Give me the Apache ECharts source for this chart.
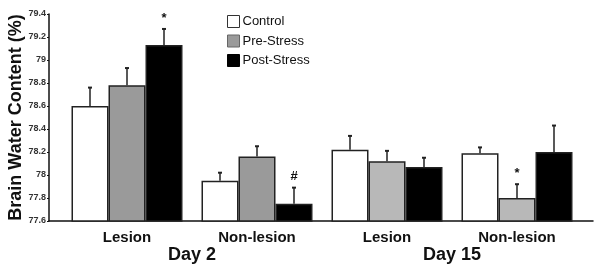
<!DOCTYPE html>
<html>
<head>
<meta charset="utf-8">
<script src="https://cdn.jsdelivr.net/npm/echarts@6/dist/echarts.min.js"></script>
<style>html,body{margin:0;padding:0;background:#fff;}#c{width:602px;height:272px;}</style>
</head>
<body>
<div id="c"></div>
<script>
var categories = ['Lesion', 'Non-lesion', 'Lesion', 'Non-lesion'];
var dayLabels = ['Day 2', 'Day 15'];
var seriesNames = ['Control', 'Pre-Stress', 'Post-Stress'];
var controlVals = [78.60, 77.95, 78.22, 78.19];
var controlErr = [0.16, 0.07, 0.12, 0.05];
var preVals = [78.78, 78.16, 78.12, 77.80];
var preErr = [0.15, 0.09, 0.09, 0.12];
var postVals = [79.13, 77.75, 78.07, 78.20];
var postErr = [0.14, 0.14, 0.08, 0.23];
var controlMarks = ['', '', '', ''];
var preMarks = ['', '', '', '*'];
var postMarks = ['*', '#', '', ''];
var yTicks = [77.6, 77.8, 78, 78.2, 78.4, 78.6, 78.8, 79, 79.2, 79.4];

var FONT = 'Liberation Sans, Arial, Helvetica, sans-serif';
var BORDER = '#222';
var colors = [
  ['#ffffff', '#ffffff', '#ffffff', '#ffffff'],
  ['#9a9a9a', '#9a9a9a', '#b8b8b8', '#b8b8b8'],
  ['#000000', '#000000', '#000000', '#000000']
];
var vals = [controlVals, preVals, postVals];
var errs = [controlErr, preErr, postErr];
var marks = [controlMarks, preMarks, postMarks];
var BAR_W = 37;

var chart = echarts.init(document.getElementById('c'), null, {renderer: 'canvas'});

var barSeries = vals.map(function (arr, s) {
  return {
    name: seriesNames[s],
    type: 'bar',
    xAxisIndex: 1,
    yAxisIndex: 1,
    barWidth: BAR_W,
    barGap: '0%',
    itemStyle: {color: colors[s][0], borderColor: BORDER, borderWidth: 1.5},
    data: arr.map(function (v, i) {
      return {value: v, itemStyle: {color: colors[s][i]}};
    }),
    z: 2
  };
});

var errData = [];
for (var s = 0; s < 3; s++) {
  for (var i = 0; i < categories.length; i++) {
    errData.push([i, s, vals[s][i], errs[s][i], marks[s][i]]);
  }
}

var errSeries = {
  type: 'custom',
  xAxisIndex: 1,
  yAxisIndex: 1,
  z: 3,
  data: errData,
  renderItem: function (params, api) {
    var ci = api.value(0), si = api.value(1), m = api.value(2), e = api.value(3);
    var mark = errData[params.dataIndex][4];
    var base = api.coord([ci, m]);
    var top = api.coord([ci, m + e]);
    var x = base[0] + (si - 1) * BAR_W;
    var children = [
      {type: 'line', shape: {x1: x, y1: base[1], x2: x, y2: top[1]}, style: {stroke: BORDER, lineWidth: 1.5}},
      {type: 'line', shape: {x1: x - 2, y1: top[1], x2: x + 2, y2: top[1]}, style: {stroke: BORDER, lineWidth: 2}}
    ];
    if (mark) {
      children.push({type: 'text', style: {text: mark, x: x, y: top[1] - (mark === '*' ? 4 : 11), align: 'center', verticalAlign: mark === '*' ? 'bottom' : 'middle', font: 'bold 13px ' + FONT, fill: '#111'}});
    }
    return {type: 'group', children: children};
  }
};

var option = {
  backgroundColor: '#fff',
  animation: false,
  grid: [
    {left: 49, right: 9, top: 14, bottom: 51, outerBoundsMode: 'none', containLabel: false},
    {left: 62, right: 20, top: 14, bottom: 51, outerBoundsMode: 'none', containLabel: false}
  ],
  legend: {
    orient: 'vertical',
    left: 222,
    top: 10,
    itemWidth: 12,
    itemHeight: 12,
    itemGap: 6.5,
    icon: 'rect',
    textStyle: {fontFamily: FONT, fontSize: 13, color: '#111', padding: [0, 0, 0, -2]},
    data: [
      {name: 'Control', itemStyle: {color: '#fff', borderColor: '#333', borderWidth: 1}},
      {name: 'Pre-Stress', itemStyle: {color: '#9a9a9a', borderColor: '#666', borderWidth: 1}},
      {name: 'Post-Stress', itemStyle: {color: '#000', borderColor: '#000', borderWidth: 1}}
    ]
  },
  xAxis: [
    {gridIndex: 0, type: 'value', min: 0, max: 1, axisLine: {show: true, onZero: false, lineStyle: {color: '#111', width: 1.5}}, axisTick: {show: false}, axisLabel: {show: false}, splitLine: {show: false}},
    {gridIndex: 1, type: 'category', data: categories, axisLine: {show: false}, axisTick: {show: false}, splitLine: {show: false},
      axisLabel: {margin: 9, fontFamily: FONT, fontSize: 15, fontWeight: 'bold', color: '#111'}},
    {gridIndex: 1, type: 'category', data: dayLabels, position: 'bottom', offset: 16, axisLine: {show: false}, axisTick: {show: false}, splitLine: {show: false},
      axisLabel: {margin: 9, fontFamily: FONT, fontSize: 18, fontWeight: 'bold', color: '#111'}}
  ],
  yAxis: [
    {gridIndex: 0, type: 'value', min: yTicks[0], max: yTicks[yTicks.length - 1], interval: 0.2,
      name: 'Brain Water Content (%)', nameLocation: 'middle', nameGap: 24, nameMoveOverlap: false,
      nameTextStyle: {fontFamily: FONT, fontSize: 18, fontWeight: 'bold', color: '#111'},
      axisLine: {show: true, lineStyle: {color: '#111', width: 1.5}},
      axisTick: {show: true, length: 2, lineStyle: {color: '#111', width: 1}},
      axisLabel: {margin: 3, fontFamily: FONT, fontSize: 9, fontWeight: 'bold', color: '#333',
        formatter: function (v) { return String(Math.round(v * 10) / 10); }},
      splitLine: {show: false}},
    {gridIndex: 1, type: 'value', min: yTicks[0], max: yTicks[yTicks.length - 1], show: false, splitLine: {show: false}}
  ],
  series: barSeries.concat([errSeries])
};
chart.setOption(option);
</script>
</body>
</html>
